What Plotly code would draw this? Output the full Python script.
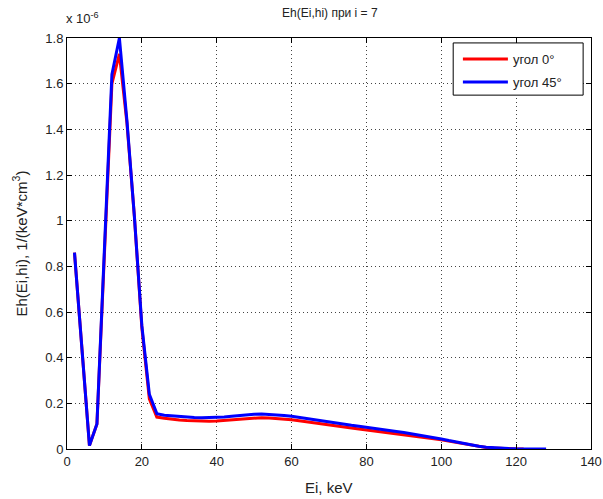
import plotly.graph_objects as go

# energy grid, keV
energy_red = [2, 4, 6, 8, 10, 12, 14, 16, 18, 20, 22, 24, 26, 28, 30, 32, 34, 36, 38, 40,
              42, 44, 46, 48, 50, 52, 54, 56, 58, 60, 62, 64, 66, 68, 70, 72, 74, 76, 78, 80,
              82, 84, 86, 88, 90, 92, 94, 96, 98, 100, 102, 104, 106, 108, 110, 112, 114, 116,
              118, 120, 122]
energy_blue = energy_red + [124, 126, 128]

# Eh(Ei,hi), units of 1e-6 1/(keV*cm^3)
eh_0deg = [0.86, 0.44, 0.015, 0.11, 0.86, 1.60, 1.73, 1.43, 1.02, 0.53, 0.22, 0.14, 0.135,
           0.13, 0.127, 0.125, 0.123, 0.122, 0.122, 0.123, 0.125, 0.128, 0.131, 0.134, 0.136,
           0.137, 0.136, 0.134, 0.131, 0.128, 0.124, 0.119, 0.114, 0.109, 0.104, 0.100, 0.096,
           0.092, 0.088, 0.084, 0.080, 0.076, 0.072, 0.068, 0.064, 0.060, 0.055, 0.050, 0.045,
           0.040, 0.034, 0.028, 0.022, 0.016, 0.011, 0.007, 0.004, 0.002, 0.001, 0.0005, 0.0]
eh_45deg = [0.86, 0.44, 0.015, 0.11, 0.87, 1.64, 1.80, 1.44, 1.02, 0.54, 0.24, 0.155, 0.148,
            0.145, 0.142, 0.140, 0.138, 0.137, 0.137, 0.138, 0.140, 0.143, 0.147, 0.150, 0.152,
            0.153, 0.152, 0.150, 0.147, 0.143, 0.138, 0.133, 0.127, 0.121, 0.116, 0.112, 0.108,
            0.104, 0.100, 0.096, 0.092, 0.087, 0.082, 0.077, 0.072, 0.067, 0.062, 0.057, 0.050,
            0.044, 0.037, 0.030, 0.024, 0.018, 0.012, 0.008, 0.005, 0.003, 0.002, 0.001, 0.001,
            0.0005, 0.0002, 0.0]

x_ticks = [0, 20, 40, 60, 80, 100, 120, 140]
y_ticks = [0, 0.2, 0.4, 0.6, 0.8, 1.0, 1.2, 1.4, 1.6, 1.8]
y_ticktext = ["0", "0.2", "0.4", "0.6", "0.8", "1", "1.2", "1.4", "1.6", "1.8"]

font = "Liberation Sans, Arial, sans-serif"
txt = "#222"

fig = go.Figure()
fig.add_trace(go.Scatter(x=energy_red, y=eh_0deg, mode="lines", name="угол 0°",
                         legendgroup="a", line={"color": "#ff0000", "width": 3}))
fig.add_trace(go.Scatter(x=energy_blue, y=eh_45deg, mode="lines", name="угол 45°",
                         legendgroup="b", line={"color": "#0000ff", "width": 3}))

axis_common = dict(
    showline=True, linecolor="black", linewidth=1, mirror="allticks",
    ticks="inside", ticklen=5, tickcolor="black", automargin=False,
    showgrid=True, gridcolor="#444", griddash="1px,3px", gridwidth=1,
    zeroline=False, tickfont={"size": 13, "color": txt, "family": font},
)
fig.update_xaxes(range=[0, 140], tickvals=x_ticks, **axis_common)
fig.update_yaxes(range=[0, 1.8], tickvals=y_ticks, ticktext=y_ticktext, **axis_common)

fig.update_layout(
    width=603, height=499,
    margin={"l": 67, "r": 12, "t": 38, "b": 50},
    paper_bgcolor="white", plot_bgcolor="white",
    font={"family": font, "color": txt},
    title={"text": "Eh(Ei,hi) при i = 7", "x": 0.547, "xanchor": "center", "y": 0.974,
           "yanchor": "middle", "font": {"size": 12, "color": txt, "family": font}},
    showlegend=True,
    legend={"x": 0.746, "xanchor": "left", "y": 0.985, "yanchor": "top",
            "bgcolor": "rgba(0,0,0,0)", "borderwidth": 0, "tracegroupgap": 3,
            "itemwidth": 45,
            "font": {"size": 13, "color": txt, "family": font}},
    shapes=[{"type": "rect", "xref": "paper", "yref": "paper",
             "x0": 0.737, "x1": 0.985, "y0": 0.861, "y1": 0.988,
             "line": {"color": "black", "width": 1}, "fillcolor": "white", "layer": "above"}],
    annotations=[
        {"text": "x 10<sup>-6</sup>", "xref": "paper", "yref": "paper",
         "x": 0, "y": 1.0, "xanchor": "left", "yanchor": "bottom", "xshift": -3, "yshift": 10,
         "showarrow": False, "font": {"size": 13, "color": txt, "family": font}},
        {"text": "Ei, keV", "xref": "paper", "yref": "paper", "x": 0.5, "y": 0,
         "xanchor": "center", "yanchor": "middle", "yshift": -38, "showarrow": False,
         "font": {"size": 15, "color": txt, "family": font}},
        {"text": "Eh(Ei,hi), 1/(keV*cm<sup>3</sup>)", "xref": "paper", "yref": "paper",
         "x": 0, "y": 0.5, "xanchor": "center", "yanchor": "middle", "xshift": -47,
         "textangle": -90, "showarrow": False,
         "font": {"size": 15, "color": txt, "family": font}},
    ],
)

# drop the default page margin so the 603x499 figure fills the window exactly
fig.write_html("out.html", config={"displayModeBar": False},
               post_script="document.body.style.margin='0';document.body.style.overflow='hidden';")
